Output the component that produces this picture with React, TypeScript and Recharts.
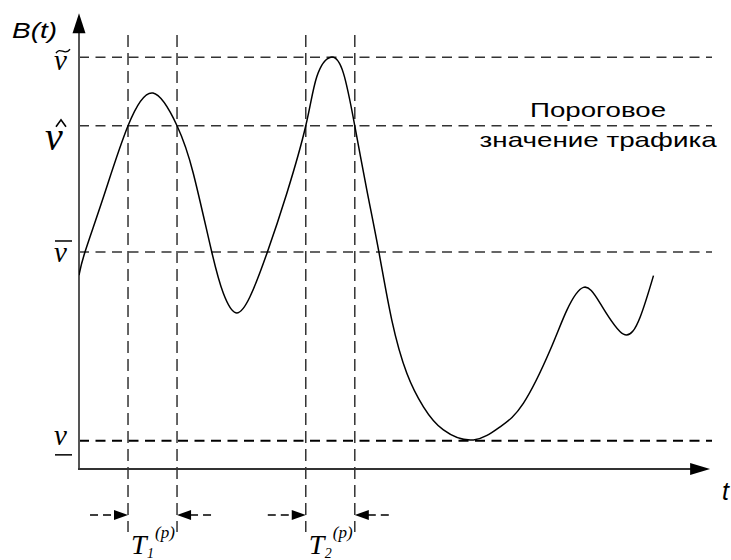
import { LineChart, Line, XAxis, YAxis, ReferenceLine, ReferenceArea, ReferenceDot } from 'recharts'

// time axis runs 0..X_MAX, traffic B(t) runs 0..100 (arbitrary units)
const X_MAX = 100.6
const T_VALUES = [
  0, 0.95, 3.86, 7.79, 11.76, 15.58, 18.17, 21.1, 22.94, 24.91, 27.19, 29.94, 33.02, 36.04, 37.79, 40.02, 42.02,
  43.83, 45.74, 47.66, 49.71, 52.1, 54.74, 57.92, 62.69, 66.93, 70.64, 74.88, 77.54, 80.17, 82.83, 86.53, 89.19,
  91.3,
]
const B_VALUES = [
  42.7, 47.8, 59.8, 75.6, 82.8, 75.6, 65.1, 47.8, 38.7, 34.4, 38.0, 47.8, 60.7, 75.6, 86.4, 90.7, 87.2, 75.6,
  61.5, 47.8, 32.8, 21.1, 13.7, 8.6, 6.4, 9.3, 14.5, 26.2, 35.0, 40.0, 36.5, 29.7, 33.5, 42.6,
]

// levels: max (tilde), threshold (hat), mean (bar), min (underline)
const LEVELS = [90.7, 75.6, 47.8, 6.2]
const LEVEL_MARKS = ['tilde', 'hat', 'bar', 'under']

// periods above threshold
const PERIODS = [
  [7.79, 15.58],
  [36.04, 43.83],
]
const PERIOD_INDEX = ['1', '2']
const MARKER_TOP = 95.6
const MARKER_BOTTOM = -13.9

const X_AXIS_END = 100.3
const Y_AXIS_END = 100.4
const THRESHOLD_TEXT = ['Пороговое', 'значение трафика']
const THRESHOLD_AT = { t: 82.5, b: 77.5 }

const data = T_VALUES.map((t, i) => ({ t, b: B_VALUES[i] }))

const SERIF = '"Liberation Serif", "Times New Roman", serif'
const SANS = '"Liberation Sans", Arial, sans-serif'

function LevelTick(props: any) {
  const { x, y, payload } = props
  const idx = LEVELS.indexOf(payload.value)
  const mark = LEVEL_MARKS[idx]
  if (mark === 'hat') {
    const x0 = x - 34
    return (
      <g>
        <text x={x0} y={y + 24} fontFamily={SERIF} fontStyle="italic" fontSize={40} fill="#000">
          ν
        </text>
        <path d={`M ${x0 + 11} ${y + 1} L ${x0 + 16} ${y - 6} L ${x0 + 21} ${y + 1}`} stroke="#000" strokeWidth={1.6} fill="none" />
      </g>
    )
  }
  const x0 = x - 25
  const base = mark === 'tilde' ? y + 13 : mark === 'bar' ? y + 10 : y + 4
  let deco = null
  if (mark === 'tilde') {
    deco = (
      <path
        d={`M ${x0 + 2} ${y - 4} C ${x0 + 6} ${y - 11}, ${x0 + 11} ${y - 1}, ${x0 + 16} ${y - 8}`}
        stroke="#000"
        strokeWidth={1.4}
        fill="none"
      />
    )
  } else if (mark === 'bar') {
    deco = <line x1={x0 + 1} x2={x0 + 18} y1={y - 11} y2={y - 11} stroke="#000" strokeWidth={1.5} />
  } else {
    deco = <line x1={x0 + 1} x2={x0 + 18} y1={y + 14} y2={y + 14} stroke="#000" strokeWidth={1.5} />
  }
  return (
    <g>
      <text x={x0} y={base} fontFamily={SERIF} fontStyle="italic" fontSize={29} fill="#000">
        ν
      </text>
      {deco}
    </g>
  )
}

function YAxisArrow(p: any) {
  const { x1, y1, y2 } = p
  const top = Math.min(y1, y2)
  const bottom = Math.max(y1, y2)
  return (
    <g>
      <line x1={x1} x2={x1} y1={bottom + 1} y2={top + 18} stroke="#555" strokeWidth={2} />
      <polygon points={`${x1},${top} ${x1 - 6.5},${top + 20} ${x1 + 6.5},${top + 20}`} fill="#000" />
      <text x={x1 - 67} y={top + 25} fontFamily={SANS} fontStyle="italic" fontSize={22} textLength={45} lengthAdjust="spacingAndGlyphs" fill="#000">
        B(t)
      </text>
    </g>
  )
}

function XAxisArrow(p: any) {
  const { x1, y1, x2 } = p
  const right = Math.max(x1, x2)
  const left = Math.min(x1, x2)
  return (
    <g>
      <line x1={left - 1} x2={right - 18} y1={y1} y2={y1} stroke="#333" strokeWidth={2} />
      <polygon points={`${right},${y1} ${right - 20},${y1 - 6} ${right - 20},${y1 + 6}`} fill="#000" />
      <text x={right + 12} y={y1 + 31} fontFamily={SANS} fontStyle="italic" fontSize={25} fill="#000">
        t
      </text>
    </g>
  )
}

function PeriodMarks(p: any, n: string) {
  const { x, y, width, height } = p
  const ya = y + height + 46
  const xl = x
  const xr = x + width
  const base = y + height + 85
  return (
    <g>
      <line x1={xl - 38} x2={xl - 13} y1={ya} y2={ya} stroke="#000" strokeWidth={1.5} strokeDasharray="8 5" />
      <polygon points={`${xl},${ya} ${xl - 14},${ya - 5} ${xl - 14},${ya + 5}`} fill="#000" />
      <polygon points={`${xr},${ya} ${xr + 14},${ya - 5} ${xr + 14},${ya + 5}`} fill="#000" />
      <line x1={xr + 13} x2={xr + 37} y1={ya} y2={ya} stroke="#000" strokeWidth={1.5} strokeDasharray="8 5" />
      <g fontFamily={SERIF} fontStyle="italic" fill="#000">
        <text x={xl + 3} y={base} fontSize={28}>
          T
        </text>
        <text x={xl + 19} y={base + 4} fontSize={14}>
          {n}
        </text>
        <text x={xl + 27} y={base - 16} fontSize={17}>
          (p)
        </text>
      </g>
    </g>
  )
}

function ThresholdLabel(p: any) {
  const { cx, cy } = p
  return (
    <g fontFamily={SANS} fontSize={21} fill="#000" textAnchor="middle">
      <text x={cx} y={cy} textLength={136} lengthAdjust="spacingAndGlyphs">
        {THRESHOLD_TEXT[0]}
      </text>
      <text x={cx} y={cy + 30} textLength={237} lengthAdjust="spacingAndGlyphs">
        {THRESHOLD_TEXT[1]}
      </text>
    </g>
  )
}

export default function App() {
  return (
    <div style={{ position: 'absolute', left: 0, top: 0, width: 731, height: 560, background: '#fff' }}>
      <LineChart width={731} height={560} data={data} margin={{ top: 15, right: 19, bottom: 91, left: 0 }}>
        <XAxis dataKey="t" type="number" domain={[0, X_MAX]} hide allowDataOverflow />
        <YAxis
          type="number"
          domain={[0, 100]}
          ticks={LEVELS}
          interval={0}
          width={79}
          axisLine={false}
          tickLine={false}
          tickSize={0}
          tickMargin={0}
          tick={<LevelTick />}
          allowDataOverflow
        />
        {LEVELS.map((lv, i) => (
          <ReferenceLine
            key={'lv' + i}
            y={lv}
            stroke={i === 3 ? '#000' : '#333'}
            strokeWidth={i === 3 ? 2 : 1.5}
            strokeDasharray="10 6.5"
          />
        ))}
        {PERIODS.flat().map((t, i) => (
          <ReferenceLine
            key={'pv' + i}
            segment={[
              { x: t, y: MARKER_TOP },
              { x: t, y: MARKER_BOTTOM },
            ]}
            ifOverflow="visible"
            stroke="#333"
            strokeWidth={1.5}
            strokeDasharray="12 6"
          />
        ))}
        {PERIODS.map((pr, i) => (
          <ReferenceArea
            key={'pa' + i}
            x1={pr[0]}
            x2={pr[1]}
            ifOverflow="visible"
            shape={(p: any) => PeriodMarks(p, PERIOD_INDEX[i])}
          />
        ))}
        <ReferenceLine
          segment={[
            { x: 0, y: 0 },
            { x: 0, y: Y_AXIS_END },
          ]}
          ifOverflow="visible"
          shape={YAxisArrow}
        />
        <ReferenceLine
          segment={[
            { x: 0, y: 0 },
            { x: X_AXIS_END, y: 0 },
          ]}
          ifOverflow="visible"
          shape={XAxisArrow}
        />
        <ReferenceDot x={THRESHOLD_AT.t} y={THRESHOLD_AT.b} r={0} ifOverflow="visible" shape={ThresholdLabel} />
        <Line dataKey="b" type="natural" stroke="#000" strokeWidth={1.5} dot={false} isAnimationActive={false} />
      </LineChart>
    </div>
  )
}
